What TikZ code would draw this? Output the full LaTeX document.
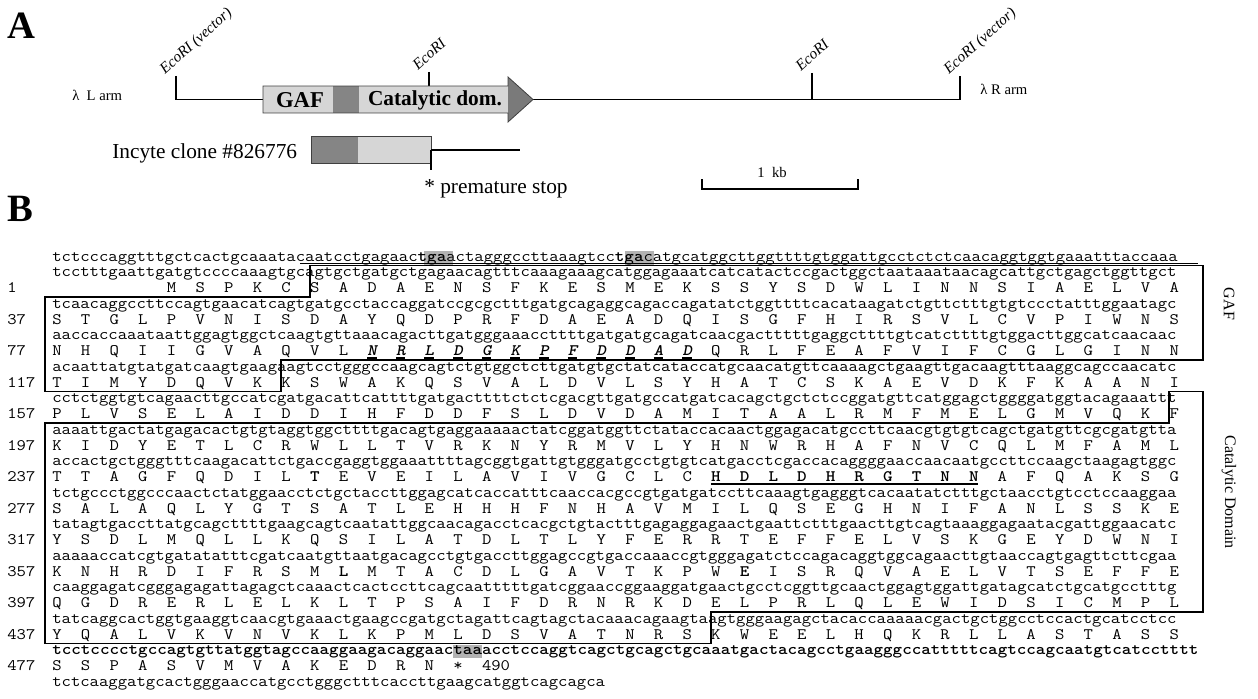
\documentclass[tikz,border=0pt]{standalone}
\usepackage{fontspec}
\setmainfont{Liberation Serif}
\newcommand\SQ[1]{\scalebox{1.137}[1]{#1}}
\newcommand\XZ{52}
\newcommand\CW{9.55}
\newcommand\YB{261}
\newcommand\RH{15.75}
\newcommand\XL{45}
\newcommand\XR{1203}
\newcommand\CX[1]{\XZ+(#1-1)*\CW}
\newcommand\RY[1]{\YB+(#1-1)*\RH}
\newcommand\BD[1]{\YB+(#1-1)*\RH+4.5}
\newcommand\ntrow[3]{\node[seq] (#1) at ({\XZ},{\RY{#2}}) {\SQ{#3}};}
\newcommand\aarow[4]{\foreach \aal [count=\k from 0] in {#4}{\node[seq] (#3-\k) at ({\XZ+(#2-1+3*\k)*\CW},{\RY{#1}}) {\SQ{\aal}};}}
\newcommand\numlab[3]{\node[seq] (#1) at (7,{\RY{#2}}) {\SQ{#3}};}
\newcommand\hlbox[3]{\fill[hl] ({\CX{#2}},{\RY{#1}+3.5}) rectangle ({\XZ+(#3)*\CW},{\RY{#1}-10});}
\newcommand\MF[1]{\textbf{\textit{#1}}}
\begin{document}
\begin{tikzpicture}[x=0.75pt,y=-0.75pt,
  seq/.style={font=\ttfamily\fontsize{12pt}{12pt}\selectfont, inner sep=0pt, anchor=base west},
  hl/.style={fill=black!30},
  dbox/.style={line width=1.3pt, line join=miter},
  gline/.style={line width=1.3pt},
  eco/.style={font=\fontsize{11.5pt}{11.5pt}\selectfont\itshape, inner sep=0pt, anchor=base west, rotate=42},
  lab/.style={font=\fontsize{11pt}{11pt}\selectfont, inner sep=0pt, anchor=base west},
  big/.style={font=\fontsize{16pt}{16pt}\selectfont, inner sep=0pt, anchor=base west},
  panel/.style={font=\fontsize{29pt}{29pt}\selectfont\bfseries, inner sep=0pt, anchor=base west},
  side/.style={font=\fontsize{12pt}{12pt}\selectfont, inner sep=0pt, rotate=-90}]
\useasboundingbox (0,0) rectangle (1258,699);

% ---------------- Panel A ----------------
\node[panel] (pA) at (7,39) {A};
\node[panel] (pB) at (7,221) {B};

\node[lab] (larm) at (72,101) {λ\ \ L arm};
\node[lab] (rarm) at (980,95) {λ\ R arm};

% map line
\coordinate (t1a) at (176,76);
\coordinate (t1b) at (176,99.5);
\coordinate (bx0) at (263,99.5);
\draw[gline] (t1a) -- (t1b) -- (bx0);
\coordinate (ah) at (533,99.5);
\coordinate (t4b) at (960,99.5);
\coordinate (t4a) at (960,76);
\draw[gline] (ah) -- (t4b) -- (t4a);
\coordinate (t3a) at (812,73);
\coordinate (t3b) at (812,99.5);
\draw[gline] (t3a) -- (t3b);
\coordinate (t2a) at (429,72);
\coordinate (t2b) at (429,86);
\draw[gline] (t2a) -- (t2b);

% arrow box
\fill[black!16] (263,86) rectangle (333,113);
\fill[black!48] (333,86) rectangle (359,113);
\fill[black!16] (359,86) rectangle (508,113);
\fill[black!52] (508,77) -- (533,99.5) -- (508,122) -- cycle;
\draw[line width=0.6pt, black!75] (263,86) -- (508,86) -- (508,77) -- (533,99.5) -- (508,122) -- (508,113) -- (263,113) -- cycle;
\node[font=\fontsize{17pt}{17pt}\selectfont\bfseries, inner sep=0pt] (gaftxt) at (300,100.5) {GAF};
\node[font=\fontsize{16pt}{16pt}\selectfont\bfseries, inner sep=0pt] (cattxt) at (435,100.5) {Catalytic dom.};

% EcoRI labels
\node[eco] (e1) at (165,75) {EcoRI (vector)};
\node[eco] (e2) at (418,71) {EcoRI};
\node[eco] (e3) at (801,72) {EcoRI};
\node[eco] (e4) at (949,75) {EcoRI (vector)};

% Incyte clone
\node[big] (inc) at (112,158) {Incyte clone \#826776};
\fill[black!48] (311,136) rectangle (358,163);
\fill[black!16] (358,136) rectangle (431,163);
\draw[line width=0.6pt, black!75] (311,136) rectangle (431,163);
\coordinate (ic1) at (431,150);
\coordinate (ic2) at (520,150);
\coordinate (ic3) at (431,170);
\draw[gline] (ic1) -- (ic2);
\draw[gline] (ic1) -- (ic3);
\node[big] (stop) at (424,193) {* premature stop};

% scale bar
\coordinate (s1) at (702,179);
\coordinate (s2) at (702,189);
\coordinate (s3) at (858,189);
\coordinate (s4) at (858,179);
\draw[gline] (s1) -- (s2) -- (s3) -- (s4);
\node[font=\fontsize{11pt}{11pt}\selectfont, inner sep=0pt] (kb) at (772,172) {1\ \ kb};

% ---------------- Panel B ----------------
\hlbox{1}{40}{42}
\hlbox{1}{61}{63}
\hlbox{26}{43}{45}

\node[seq] (r1) at ({\XZ},{\RY{1}}) {\SQ{tctcccaggtttgctcactgcaaatacaatcctgagaac\textbf{tga}actagggccttaaagtcc\textbf{tga}catgcatggcttggttttgtggattgcctctctcaacaggtggtgaaatttaccaaa}};
\draw[line width=0.8pt] ({\CX{27}},{\RY{1}+2.5}) -- ({\CX{121}},{\RY{1}+2.5});

\ntrow{r2}{2}{tcctttgaattgatgtccccaaagtgcagtgctgatgctgagaacagtttcaaagaaagcatggagaaatcatcatactccgactggctaataaataacagcattgctgagctggttgct}
\numlab{n1}{3}{1}
\aarow{3}{13}{a1}{M,S,P,K,C,S,A,D,A,E,N,S,F,K,E,S,M,E,K,S,S,Y,S,D,W,L,I,N,N,S,I,A,E,L,V,A}

\ntrow{r4}{4}{tcaacaggccttccagtgaacatcagtgatgcctaccaggatccgcgctttgatgcagaggcagaccagatatctggttttcacataagatctgttctttgtgtccctatttggaatagc}
\numlab{n37}{5}{37}
\aarow{5}{1}{a37}{S,T,G,L,P,V,N,I,S,D,A,Y,Q,D,P,R,F,D,A,E,A,D,Q,I,S,G,F,H,I,R,S,V,L,C,V,P,I,W,N,S}

\ntrow{r6}{6}{aaccaccaaataattggagtggctcaagtgttaaacagacttgatgggaaaccttttgatgatgcagatcaacgactttttgaggcttttgtcatcttttgtggacttggcatcaacaac}
\numlab{n77}{7}{77}
\aarow{7}{1}{a77}{N,H,Q,I,I,G,V,A,Q,V,L,\MF{N},\MF{R},\MF{L},\MF{D},\MF{G},\MF{K},\MF{P},\MF{F},\MF{D},\MF{D},\MF{A},\MF{D},Q,R,L,F,E,A,F,V,I,F,C,G,L,G,I,N,N}
\foreach \m in {11,...,22}{\draw[line width=0.8pt] ({\XZ+(3*\m)*\CW},{\RY{7}+2.5}) -- ({\XZ+(3*\m+1)*\CW},{\RY{7}+2.5});}

\ntrow{r8}{8}{acaattatgtatgatcaagtgaagaagtcctgggccaagcagtctgtggctcttgatgtgctatcataccatgcaacatgttcaaaagctgaagttgacaagtttaaggcagccaacatc}
\numlab{n117}{9}{117}
\aarow{9}{1}{a117}{T,I,M,Y,D,Q,V,K,K,S,W,A,K,Q,S,V,A,L,D,V,L,S,Y,H,A,T,C,S,K,A,E,V,D,K,F,K,A,A,N,I}

\ntrow{r10}{10}{cctctggtgtcagaacttgccatcgatgacattcattttgatgacttttctctcgacgttgatgccatgatcacagctgctctccggatgttcatggagctggggatggtacagaaattt}
\numlab{n157}{11}{157}
\aarow{11}{1}{a157}{P,L,V,S,E,L,A,I,D,D,I,H,F,D,D,F,S,L,D,V,D,A,M,I,T,A,A,L,R,M,F,M,E,L,G,M,V,Q,K,F}

\ntrow{r12}{12}{aaaattgactatgagacactgtgtaggtggcttttgacagtgaggaaaaactatcggatggttctataccacaactggagacatgccttcaacgtgtgtcagctgatgttcgcgatgtta}
\numlab{n197}{13}{197}
\aarow{13}{1}{a197}{K,I,D,Y,E,T,L,C,R,W,L,L,T,V,R,K,N,Y,R,M,V,L,Y,H,N,W,R,H,A,F,N,V,C,Q,L,M,F,A,M,L}

\ntrow{r14}{14}{accactgctgggtttcaagacattctgaccgaggtggaaattttagcggtgattgtgggatgcctgtgtcatgacctcgaccacaggggaaccaacaatgccttccaagctaagagtggc}
\numlab{n237}{15}{237}
\aarow{15}{1}{a237}{T,T,A,G,F,Q,D,I,L,\textbf{T},E,V,E,I,L,A,V,I,V,G,C,L,C,\textbf{H},\textbf{D},\textbf{L},\textbf{D},\textbf{H},\textbf{R},\textbf{G},\textbf{T},\textbf{N},\textbf{N},A,F,Q,A,K,S,G}
\draw[line width=0.9pt] ({\CX{70}},{\RY{15}+2.5}) -- ({\CX{98}},{\RY{15}+2.5});

\ntrow{r16}{16}{tctgccctggcccaactctatggaacctctgctaccttggagcatcaccatttcaaccacgccgtgatgatccttcaaagtgagggtcacaatatctttgctaacctgtcctccaaggaa}
\numlab{n277}{17}{277}
\aarow{17}{1}{a277}{S,A,L,A,Q,L,Y,G,T,S,A,T,L,E,H,H,H,F,N,H,A,V,M,I,L,Q,S,E,G,H,N,I,F,A,N,L,S,S,K,E}

\ntrow{r18}{18}{tatagtgaccttatgcagcttttgaagcagtcaatattggcaacagacctcacgctgtactttgagaggagaactgaattctttgaacttgtcagtaaaggagaatacgattggaacatc}
\numlab{n317}{19}{317}
\aarow{19}{1}{a317}{Y,S,D,L,M,Q,L,L,K,Q,S,I,L,A,T,D,L,T,L,Y,F,E,R,R,T,E,F,F,E,L,V,S,K,G,E,Y,D,W,N,I}

\ntrow{r20}{20}{aaaaaccatcgtgatatatttcgatcaatgttaatgacagcctgtgaccttggagccgtgaccaaaccgtgggagatctccagacaggtggcagaacttgtaaccagtgagttcttcgaa}
\numlab{n357}{21}{357}
\aarow{21}{1}{a357}{K,N,H,R,D,I,F,R,S,M,\textbf{L},M,T,A,C,D,L,G,A,V,T,K,P,W,\textbf{E},I,S,R,Q,V,A,E,L,V,T,S,E,F,F,E}

\ntrow{r22}{22}{caaggagatcgggagagattagagctcaaactcactccttcagcaatttttgatcggaaccggaaggatgaactgcctcggttgcaactggagtggattgatagcatctgcatgcctttg}
\numlab{n397}{23}{397}
\aarow{23}{1}{a397}{Q,G,D,R,E,R,L,E,L,K,L,T,P,S,A,I,F,D,R,N,R,K,D,E,L,P,R,L,Q,L,E,W,I,D,S,I,C,M,P,L}

\ntrow{r24}{24}{tatcaggcactggtgaaggtcaacgtgaaactgaagccgatgctagattcagtagctacaaacagaagtaagtgggaagagctacaccaaaaacgactgctggcctccactgcatcctcc}
\numlab{n437}{25}{437}
\aarow{25}{1}{a437}{Y,Q,A,L,V,K,V,N,V,K,L,K,P,M,L,D,S,V,A,T,N,R,S,K,W,E,E,L,H,Q,K,R,L,L,A,S,T,A,S,S}

\node[seq] (r26) at ({\XZ},{\RY{26}}) {\SQ{\bfseries tcctcccctgccagtgttatggtagccaaggaagacaggaactaaacctccaggtcagctgcagctgcaaatgactacagcctgaagggccatttttcagtccagcaatgtcatcctttt}};
\numlab{n477}{27}{477}
\aarow{27}{1}{a477}{S,S,P,A,S,V,M,V,A,K,E,D,R,N,*}
\node[seq] (n490) at ({\CX{46}},{\RY{27}}) {\SQ{490}};
\ntrow{r28}{28}{tctcaaggatgcactgggaaccatgcctgggctttcaccttgaagcatggtcagcagca}

% domain boxes
\draw[dbox] ({\CX{28}},{\BD{1}}) -- ({\XR},{\BD{1}}) -- ({\XR},{\BD{7}}) -- ({\CX{25}},{\BD{7}}) -- ({\CX{25}},{\BD{9}}) -- ({\XL},{\BD{9}}) -- ({\XL},{\BD{3}}) -- ({\CX{28}},{\BD{3}}) -- cycle;
\draw[dbox] ({\XL},{\BD{11}}) -- ({\CX{118}},{\BD{11}}) -- ({\CX{118}},{\BD{9}}) -- ({\XR},{\BD{9}}) -- ({\XR},{\BD{23}}) -- ({\CX{70}},{\BD{23}}) -- ({\CX{70}},{\BD{25}}) -- ({\XL},{\BD{25}}) -- cycle;

\node[side] (gaflab) at (1229,304) {GAF};
\node[side] (catlab) at (1229,492) {Catalytic Domain};
\end{tikzpicture}
\end{document}
